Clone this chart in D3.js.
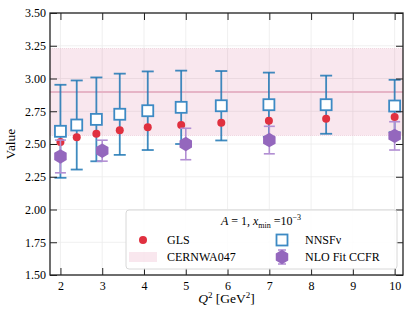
<!DOCTYPE html>
<html>
<head>
<meta charset="utf-8">
<script src="https://cdn.jsdelivr.net/npm/d3@7"></script>
<style>
  body { margin: 0; background: #fff; }
  text { font-family: "Liberation Serif", "DejaVu Serif", serif; }
</style>
</head>
<body>
<div id="chart"></div>
<script>
// data
var q2 = [2.0, 2.39, 2.86, 3.42, 4.09, 4.89, 5.85, 6.99, 8.36, 10.0];
var nnsfValue = [2.597, 2.645, 2.688, 2.727, 2.754, 2.780, 2.792, 2.800, 2.800, 2.790];
var nnsfErr   = [0.355, 0.340, 0.320, 0.310, 0.300, 0.280, 0.265, 0.245, 0.222, 0.200];
var glsValue  = [2.515, 2.551, 2.579, 2.605, 2.627, 2.645, 2.663, 2.678, 2.693, 2.706];
var ccfrQ2    = [2, 3, 5, 7, 10];
var ccfrValue = [2.405, 2.449, 2.500, 2.530, 2.562];
var ccfrErr   = [0.125, 0.080, 0.120, 0.105, 0.108];
var cernValue = 2.897, cernErr = 0.332;
var xTicks = [2, 3, 4, 5, 6, 7, 8, 9, 10];
var yTicks = [1.50, 1.75, 2.00, 2.25, 2.50, 2.75, 3.00, 3.25, 3.50];

var W = 411, H = 318;
var pL = 50, pR = 403, pT = 13, pB = 275;

var svg = d3.select("#chart").append("svg")
  .attr("width", W).attr("height", H);

var x = d3.scaleLinear().domain([1.75, 10.2]).range([pL, pR]);
var y = d3.scaleLinear().domain([1.5, 3.5]).range([pB, pT]);

var blue = "#1f77b4", red = "#e0303f", purple = "#9467bd";

// grid
svg.append("g").selectAll("line").data(xTicks).enter().append("line")
  .attr("x1", d => x(d)).attr("x2", d => x(d))
  .attr("y1", pT).attr("y2", pB)
  .attr("stroke", "#ececec").attr("stroke-width", 0.8);
svg.append("g").selectAll("line").data(yTicks).enter().append("line")
  .attr("x1", pL).attr("x2", pR)
  .attr("y1", d => y(d)).attr("y2", d => y(d))
  .attr("stroke", "#ececec").attr("stroke-width", 0.8);

// CERNWA047 band
svg.append("rect")
  .attr("x", pL).attr("width", pR - pL)
  .attr("y", y(cernValue + cernErr))
  .attr("height", y(cernValue - cernErr) - y(cernValue + cernErr))
  .attr("fill", "#c2185b").attr("fill-opacity", 0.1)
  .attr("stroke", "#e8c4d2").attr("stroke-width", 0.6).attr("stroke-dasharray", "1,1");
svg.append("line")
  .attr("x1", pL).attr("x2", pR)
  .attr("y1", y(cernValue)).attr("y2", y(cernValue))
  .attr("stroke", "#e6b4c6").attr("stroke-width", 1.8);

// NNSF error bars
var nnsf = q2.map((d, i) => ({q: d, v: nnsfValue[i], e: nnsfErr[i]}));
var gN = svg.append("g").attr("stroke", blue).attr("stroke-width", 1.8).attr("stroke-opacity", 0.85);
nnsf.forEach(function(d) {
  gN.append("line").attr("x1", x(d.q)).attr("x2", x(d.q))
    .attr("y1", y(d.v - d.e)).attr("y2", y(d.v + d.e));
  [d.v - d.e, d.v + d.e].forEach(function(v) {
    gN.append("line").attr("x1", x(d.q) - 6).attr("x2", x(d.q) + 6)
      .attr("y1", y(v)).attr("y2", y(v));
  });
});
svg.append("g").selectAll("rect").data(nnsf).enter().append("rect")
  .attr("x", d => x(d.q) - 5.5).attr("y", d => y(d.v) - 5.5)
  .attr("width", 11).attr("height", 11)
  .attr("fill", "#fff").attr("stroke", "#3d8ac4").attr("stroke-width", 1.8);

// GLS points
svg.append("g").selectAll("circle").data(q2).enter().append("circle")
  .attr("cx", d => x(d)).attr("cy", (d, i) => y(glsValue[i]))
  .attr("r", 4).attr("fill", red);

// CCFR points
var hex = d3.symbol().type({
  draw: function(ctx, size) {
    var r = Math.sqrt(size);
    for (var k = 0; k < 6; k++) {
      var a = Math.PI / 2 + k * Math.PI / 3;
      var px = r * Math.cos(a), py = -r * Math.sin(a);
      if (k === 0) ctx.moveTo(px, py); else ctx.lineTo(px, py);
    }
    ctx.closePath();
  }
}).size(52);
var ccfr = ccfrQ2.map((d, i) => ({q: d, v: ccfrValue[i], e: ccfrErr[i]}));
var gC = svg.append("g").attr("stroke", "#b28fd3").attr("stroke-width", 1.6);
ccfr.forEach(function(d) {
  gC.append("line").attr("x1", x(d.q)).attr("x2", x(d.q))
    .attr("y1", y(d.v - d.e)).attr("y2", y(d.v + d.e));
  [d.v - d.e, d.v + d.e].forEach(function(v) {
    gC.append("line").attr("x1", x(d.q) - 5.5).attr("x2", x(d.q) + 5.5)
      .attr("y1", y(v)).attr("y2", y(v));
  });
});
svg.append("g").selectAll("path").data(ccfr).enter().append("path")
  .attr("d", hex)
  .attr("transform", d => "translate(" + x(d.q) + "," + y(d.v) + ")")
  .attr("fill", purple);

// axes with inward ticks on all sides
svg.append("g").attr("transform", "translate(0," + pB + ")")
  .call(d3.axisBottom(x).tickValues(xTicks).tickSizeInner(-7).tickSizeOuter(0).tickPadding(6))
  .call(g => g.select(".domain").remove())
  .call(g => g.selectAll("text").style("font-size", "12px").style("font-family", "Liberation Serif"));
svg.append("g").attr("transform", "translate(0," + pT + ")")
  .call(d3.axisTop(x).tickValues(xTicks).tickSizeInner(-7).tickSizeOuter(0).tickFormat(""))
  .call(g => g.select(".domain").remove());
svg.append("g").attr("transform", "translate(" + pL + ",0)")
  .call(d3.axisLeft(y).tickValues(yTicks).tickSizeInner(-7).tickSizeOuter(0).tickPadding(4).tickFormat(d3.format(".2f")))
  .call(g => g.select(".domain").remove())
  .call(g => g.selectAll("text").style("font-size", "12px").style("font-family", "Liberation Serif"));
svg.append("g").attr("transform", "translate(" + pR + ",0)")
  .call(d3.axisRight(y).tickValues(yTicks).tickSizeInner(-7).tickSizeOuter(0).tickFormat(""))
  .call(g => g.select(".domain").remove());
svg.selectAll(".tick line").attr("stroke", "#222").attr("stroke-width", 1);

svg.append("rect")
  .attr("x", pL).attr("y", pT).attr("width", pR - pL).attr("height", pB - pT)
  .attr("fill", "none").attr("stroke", "#222").attr("stroke-width", 1.3);

// axis labels
svg.append("text")
  .attr("transform", "translate(15," + ((pT + pB) / 2) + ") rotate(-90)")
  .attr("text-anchor", "middle").style("font-size", "13.5px").text("Value");
var xl = svg.append("text").attr("x", (pL + pR) / 2).attr("y", 303)
  .attr("text-anchor", "middle").style("font-size", "13.5px");
xl.append("tspan").style("font-style", "italic").text("Q");
xl.append("tspan").attr("dy", -5).style("font-size", "9px").text("2");
xl.append("tspan").attr("dy", 5).text(" [GeV");
xl.append("tspan").attr("dy", -5).style("font-size", "9px").text("2");
xl.append("tspan").attr("dy", 5).text("]");

// legend
var lg = svg.append("g");
lg.append("rect").attr("x", 126).attr("y", 210).attr("width", 271).attr("height", 59)
  .attr("rx", 3).attr("fill", "#fff").attr("fill-opacity", 0.85)
  .attr("stroke", "#d8d8d8").attr("stroke-width", 1);
var lt = lg.append("text").attr("x", 261).attr("y", 225).attr("text-anchor", "middle")
  .style("font-size", "12px");
lt.append("tspan").style("font-style", "italic").text("A");
lt.append("tspan").text(" = 1, ");
lt.append("tspan").style("font-style", "italic").text("x");
lt.append("tspan").attr("dy", 3).style("font-size", "8px").text("min");
lt.append("tspan").attr("dy", -3).text(" =10");
lt.append("tspan").attr("dy", -5).style("font-size", "8px").text("\u22123");

lg.append("circle").attr("cx", 143).attr("cy", 240).attr("r", 4).attr("fill", red);
lg.append("text").attr("x", 167).attr("y", 244).style("font-size", "12px").text("GLS");
lg.append("rect").attr("x", 129).attr("y", 252).attr("width", 28).attr("height", 10)
  .attr("fill", "#c2185b").attr("fill-opacity", 0.1);
lg.append("text").attr("x", 167).attr("y", 261).style("font-size", "12px").text("CERNWA047");
lg.append("rect").attr("x", 276.5).attr("y", 234.5).attr("width", 11).attr("height", 11)
  .attr("fill", "#fff").attr("stroke", "#3d8ac4").attr("stroke-width", 1.8);
lg.append("text").attr("x", 305).attr("y", 244).style("font-size", "12px").text("NNSF\u03bd");
lg.append("line").attr("x1", 282).attr("x2", 282).attr("y1", 250).attr("y2", 264)
  .attr("stroke", "#b28fd3").attr("stroke-width", 1.6);
lg.append("line").attr("x1", 278).attr("x2", 286).attr("y1", 250).attr("y2", 250)
  .attr("stroke", "#b28fd3").attr("stroke-width", 1.6);
lg.append("line").attr("x1", 278).attr("x2", 286).attr("y1", 264).attr("y2", 264)
  .attr("stroke", "#b28fd3").attr("stroke-width", 1.6);
lg.append("path").attr("d", hex).attr("transform", "translate(282,257)").attr("fill", purple);
lg.append("text").attr("x", 305).attr("y", 261).style("font-size", "12px").text("NLO Fit CCFR");
</script>
</body>
</html>
